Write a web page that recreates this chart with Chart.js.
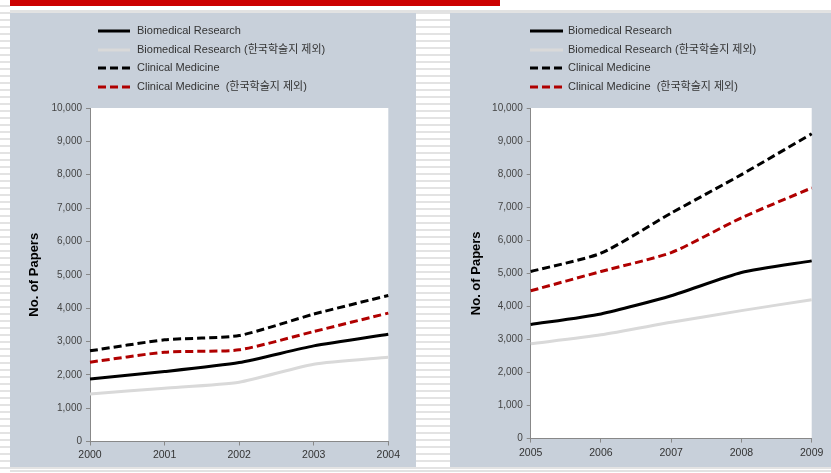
<!DOCTYPE html>
<html>
<head>
<meta charset="utf-8">
<script src="https://cdn.jsdelivr.net/npm/chart.js@4/dist/chart.umd.min.js"></script>
<style>
  html, body { margin: 0; padding: 0; }
  body {
    width: 831px; height: 473px; position: relative; overflow: hidden;
    background: repeating-linear-gradient(to bottom, #ffffff 0px, #ffffff 5px, #e3e3e3 5px, #e3e3e3 7px);
  }
  .topband { position: absolute; left: 10px; top: 0; width: 821px; height: 10px; background: #fff; }
  .redbar { position: absolute; left: 10px; top: 0; width: 490px; height: 6px; background: #cc0000; }
  .rule { position: absolute; left: 10px; top: 10px; width: 821px; height: 2px; background: #e2e2e2; }
  .bottomrule { position: absolute; left: 10px; top: 470px; width: 821px; height: 2px; background: #e2e2e2; }
  .panel { position: absolute; top: 13px; height: 454px; background: #c8d0da; }
  #p1 { left: 10px; width: 406px; }
  #p2 { left: 450px; width: 381px; }
  canvas { display: block; }
</style>
</head>
<body>
<div class="topband"></div>
<div class="redbar"></div>
<div class="rule"></div>
<div class="bottomrule"></div>
<div class="panel" id="p1"><canvas id="c1" width="406" height="454"></canvas></div>
<div class="panel" id="p2"><canvas id="c2" width="381" height="454"></canvas></div>
<script>
// data
const yearsA = ['2000', '2001', '2002', '2003', '2004'];
const yearsB = ['2005', '2006', '2007', '2008', '2009'];

const bioA = [1877, 2096, 2366, 2868, 3219];
const bioExA = [1426, 1597, 1778, 2318, 2528];
const clinA = [2718, 3048, 3177, 3820, 4379];
const clinExA = [2378, 2679, 2748, 3297, 3850];

const bioB = [3450, 3771, 4322, 5024, 5376];
const bioExB = [2868, 3139, 3518, 3871, 4202];
const clinB = [5055, 5607, 6821, 7986, 9220];
const clinExB = [4471, 5055, 5626, 6680, 7583];

const seriesNames = [
  'Biomedical Research',
  'Biomedical Research (한국학술지 제외)',
  'Clinical Medicine',
  'Clinical Medicine  (한국학술지 제외)'
];

Chart.defaults.font.family = "'Liberation Sans', Arial, 'Noto Sans CJK KR', sans-serif";

// white plot area
const plotBg = {
  id: 'plotBg',
  beforeDraw(chart) {
    const { ctx, chartArea: a } = chart;
    ctx.save();
    ctx.fillStyle = '#ffffff';
    ctx.fillRect(a.left, a.top, a.right - a.left, a.bottom - a.top);
    ctx.restore();
  }
};

// stacked legend in the top left of each panel
const stackLegend = {
  id: 'stackLegend',
  afterDraw(chart, args, opts) {
    const ctx = chart.ctx;
    const rows = [18, 37, 55, 74];
    ctx.save();
    chart.data.datasets.forEach((ds, i) => {
      const y = rows[i];
      ctx.beginPath();
      ctx.setLineDash(ds.borderDash || []);
      ctx.lineWidth = ds.borderWidth;
      ctx.strokeStyle = ds.borderColor;
      ctx.moveTo(opts.x0, y);
      ctx.lineTo(opts.x1, y);
      ctx.stroke();
      ctx.setLineDash([]);
      ctx.fillStyle = '#333';
      ctx.font = "11px 'Liberation Sans', Arial, 'Noto Sans CJK KR', sans-serif";
      ctx.textBaseline = 'middle';
      ctx.fillText(ds.label, opts.tx, y);
    });
    ctx.restore();
  }
};

function makeChart(id, labels, a, b, c, d, cfg) {
  const ctx = document.getElementById(id);
  return new Chart(ctx, {
    type: 'line',
    data: {
      labels: labels,
      datasets: [
        { label: seriesNames[0], data: a, borderColor: '#000000', borderWidth: 3 },
        { label: seriesNames[1], data: b, borderColor: '#d9d9d9', borderWidth: 3 },
        { label: seriesNames[2], data: c, borderColor: '#000000', borderWidth: 3, borderDash: [8, 4] },
        { label: seriesNames[3], data: d, borderColor: '#b00000', borderWidth: 3, borderDash: [8, 4] }
      ]
    },
    options: {
      responsive: false,
      animation: false,
      devicePixelRatio: 1,
      elements: { point: { radius: 0 }, line: { tension: 0.2, borderCapStyle: 'butt' } },
      layout: { padding: { top: 95, right: cfg.padRight, bottom: 0, left: 0 } },
      plugins: {
        legend: { display: false },
        tooltip: { enabled: false },
        stackLegend: { x0: cfg.lx0, x1: cfg.lx1, tx: cfg.tx }
      },
      scales: {
        x: {
          offset: false,
          grid: { drawOnChartArea: false, drawTicks: true, tickLength: 4, color: '#888' },
          border: { color: '#888', width: 1 },
          ticks: { color: '#333', font: { size: 10.5 }, padding: cfg.xPad, maxRotation: 0 },
          afterFit(scale) { scale.height = cfg.xHeight; }
        },
        y: {
          min: 0,
          max: 10000,
          grid: { drawOnChartArea: false, drawTicks: true, tickLength: 4, color: '#888' },
          border: { color: '#888', width: 1 },
          ticks: {
            stepSize: 1000,
            color: '#444',
            font: { size: 10 },
            padding: 4,
            callback: v => v.toLocaleString('en-US')
          },
          title: {
            display: true,
            text: 'No. of Papers',
            color: '#000',
            font: { size: 13, weight: 'bold' },
            padding: { top: cfg.titlePad, bottom: 0 }
          },
          afterFit(scale) { scale.width = cfg.yWidth; }
        }
      }
    },
    plugins: [plotBg, stackLegend]
  });
}

makeChart('c1', yearsA, bioA, bioExA, clinA, clinExA, {
  padRight: 27.7, yWidth: 80, xHeight: 25.5, xPad: 3, titlePad: 17,
  lx0: 88, lx1: 120, tx: 127
});
makeChart('c2', yearsB, bioB, bioExB, clinB, clinExB, {
  padRight: 19.3, yWidth: 80.7, xHeight: 28.4, xPad: 4, titlePad: 19,
  lx0: 80, lx1: 113, tx: 118
});
</script>
</body>
</html>
